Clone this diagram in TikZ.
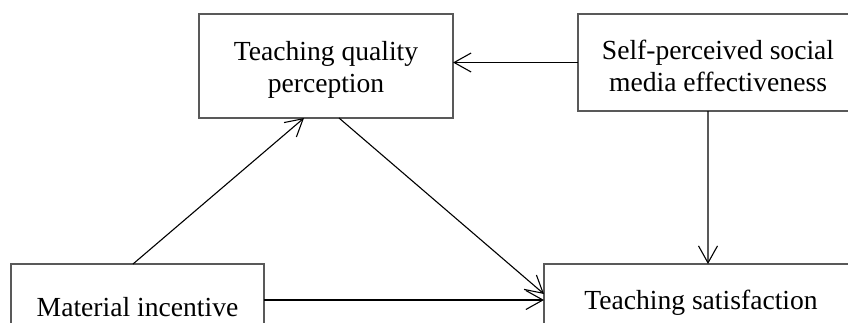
\documentclass[tikz,border=0pt]{standalone}
\usepackage{fontspec}
\setmainfont{Liberation Serif}
\usetikzlibrary{arrows.meta,calc}
\begin{document}
\begin{tikzpicture}[x=1bp,y=-1bp,
  box/.style={draw=black!65, line width=1.3bp, rectangle, inner sep=0pt, outer sep=0pt},
  lbl/.style={font=\fontsize{27.6bp}{32bp}\selectfont, align=center, inner sep=0pt},
  arr/.style={draw=black, line width=1.1bp, -{Straight Barb[length=17bp,width=19bp,line width=1.1bp]}}]
\useasboundingbox (0,0) rectangle (848,322);
\clip (0,0) rectangle (848,322);
% boxes
\node[box, minimum width=254bp, minimum height=104bp] (tqp) at (326,66) {};
\node[box, minimum width=280bp, minimum height=97bp] (sp) at (718,62.5) {};
\node[box, minimum width=253bp, minimum height=100bp] (mi) at (137.5,314) {};
\node[box, minimum width=314bp, minimum height=100bp] (ts) at (701,314) {};
% texts
\node[lbl] (tqpt) at (326,70) {Teaching quality\\perception};
\node[lbl] (spt) at (718,66) {Self-perceived social\\media effectiveness};
\node[lbl, anchor=base] (mit) at (137.5,316) {Material incentive};
\node[lbl, anchor=base] (tst) at (701,309) {Teaching satisfaction};
% connectors
\draw[arr] (sp.west) -- (sp.west -| tqp.east);
\draw[arr] ($(sp.south west)+(130,0)$) -- ($(ts.north west)+(164,0)$);
\draw[arr] ($(mi.north west)+(122,0)$) -- ($(tqp.south west)+(105,0)$);
\draw[arr] ($(tqp.south west)+(140,0)$) -- ($(ts.north west)+(0,30)$);
\draw[arr] ($(mi.north east)+(0,36)$) -- ($(ts.north west)+(0,36)$);
\end{tikzpicture}
\end{document}
